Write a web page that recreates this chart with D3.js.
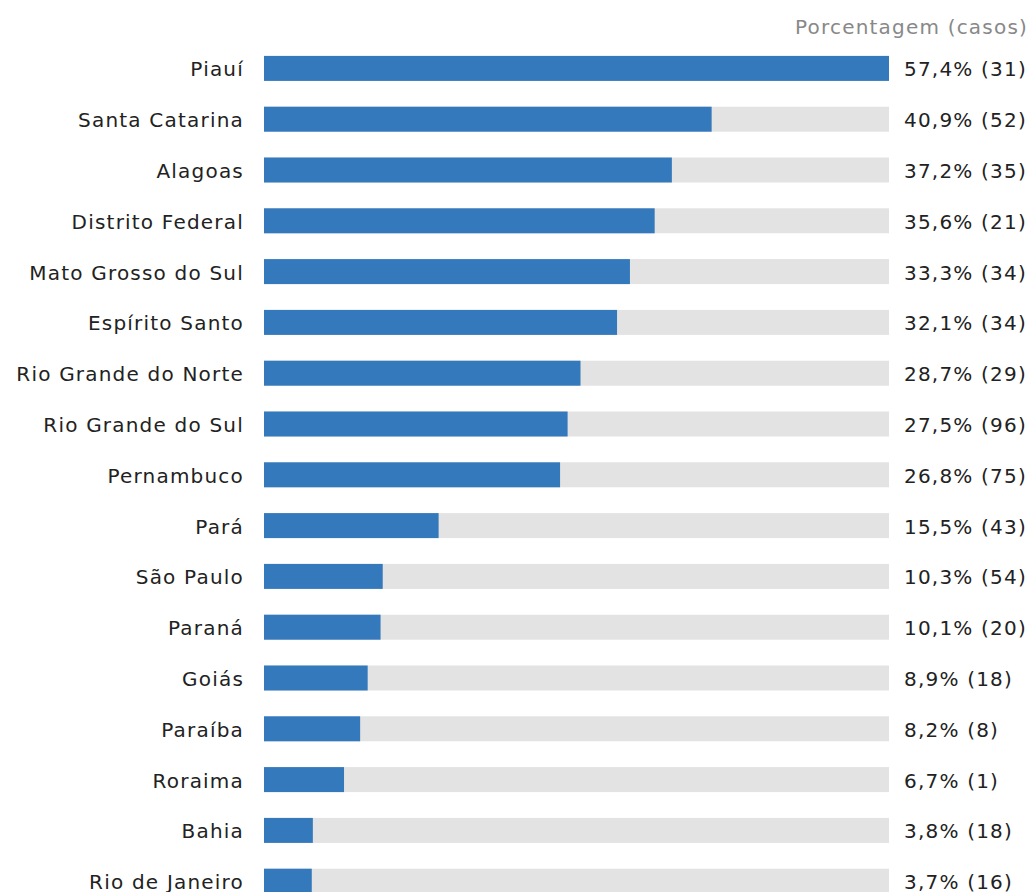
<!DOCTYPE html>
<html>
<head>
<meta charset="utf-8">
<script src="https://cdn.jsdelivr.net/npm/d3@7"></script>
<style>
  body { margin: 0; background: #fff; }
  text { font-family: "DejaVu Sans", sans-serif; letter-spacing: 1.2px; }
</style>
</head>
<body>
<div id="chart"></div>
<script>
// Data
var states = ["Piauí", "Santa Catarina", "Alagoas", "Distrito Federal", "Mato Grosso do Sul",
  "Espírito Santo", "Rio Grande do Norte", "Rio Grande do Sul", "Pernambuco", "Pará",
  "São Paulo", "Paraná", "Goiás", "Paraíba", "Roraima", "Bahia", "Rio de Janeiro"];
var percents = [57.4, 40.9, 37.2, 35.6, 33.3, 32.1, 28.7, 27.5, 26.8, 15.5,
  10.3, 10.1, 8.9, 8.2, 6.7, 3.8, 3.7];
var cases = [31, 52, 35, 21, 34, 34, 29, 96, 75, 43, 54, 20, 18, 8, 1, 18, 16];
var axisTitle = "Porcentagem (casos)";

var width = 1032, height = 892;
var barLeft = 264, barRight = 889;

var svg = d3.select("#chart")
    .append("svg")
    .attr("width", width)
    .attr("height", height);

// Y band scale: one row per state
var y = d3.scaleBand()
    .domain(states)
    .range([43, 43 + states.length * 50.8])
    .paddingInner(0.508)
    .paddingOuter(0.254);

// X scale (the bars have a small minimum stub at the left)
var x = d3.scaleLinear()
    .domain([0, d3.max(percents)])
    .range([272, barRight]);

var rows = states.map((s, i) => ({ name: s, pct: percents[i], n: cases[i] }));

// Background tracks
svg.selectAll("bgRect")
    .data(rows)
    .enter()
    .append("rect")
    .attr("x", barLeft)
    .attr("y", d => y(d.name))
    .attr("width", barRight - barLeft)
    .attr("height", y.bandwidth())
    .attr("fill", "#e3e3e3");

// Bars
svg.selectAll("bar")
    .data(rows)
    .enter()
    .append("rect")
    .attr("x", barLeft)
    .attr("y", d => y(d.name))
    .attr("width", d => x(d.pct) - barLeft)
    .attr("height", y.bandwidth())
    .attr("fill", "#3579bd");

// State names
svg.selectAll("stateLabel")
    .data(rows)
    .enter()
    .append("text")
    .attr("x", 244)
    .attr("y", d => y(d.name) + y.bandwidth() / 2 + 1)
    .attr("text-anchor", "end")
    .attr("dominant-baseline", "central")
    .style("font-size", "20px")
    .style("fill", "#222")
    .text(d => d.name);

// Values
svg.selectAll("valueLabel")
    .data(rows)
    .enter()
    .append("text")
    .attr("x", 904)
    .attr("y", d => y(d.name) + y.bandwidth() / 2 + 1)
    .attr("text-anchor", "start")
    .attr("dominant-baseline", "central")
    .style("font-size", "20px")
    .style("fill", "#222")
    .text(d => d.pct.toFixed(1).replace(".", ",") + "% (" + d.n + ")");

// Header
svg.append("text")
    .attr("x", 1028)
    .attr("y", 27)
    .attr("text-anchor", "end")
    .attr("dominant-baseline", "central")
    .style("font-size", "20px")
    .style("fill", "#888")
    .text(axisTitle);
</script>
</body>
</html>
